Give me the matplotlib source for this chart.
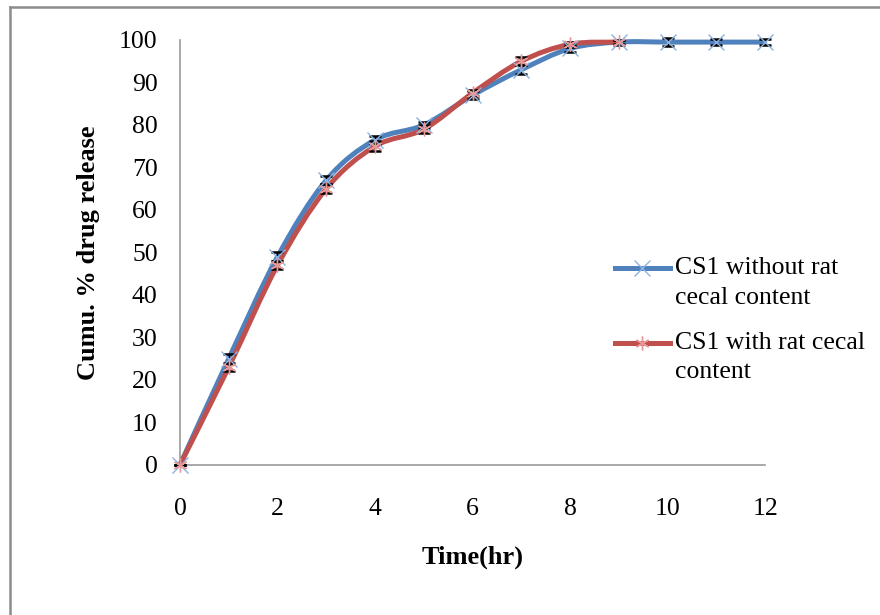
import matplotlib.pyplot as plt
import numpy as np
from matplotlib.path import Path
from matplotlib.patches import PathPatch
from matplotlib.lines import Line2D

plt.rcParams['font.family'] = ['Liberation Serif', 'DejaVu Serif']

# data
t_without = [0, 1, 2, 3, 4, 5, 6, 7, 8, 9, 10, 11, 12]
cs1_without = [0, 25, 49, 67, 76.5, 80, 87, 93, 98, 99.5, 99.5, 99.5, 99.5]
err_without = [0, 1.2, 1.0, 0.9, 1.0, 0.8, 0.9, 1.0, 0.8, 0.6, 0.9, 0.8, 0.8]
t_with = [0, 1, 2, 3, 4, 5, 6, 7, 8, 9]
cs1_with = [0, 23, 47, 65, 75, 79, 87.5, 95, 99, 99.5]
err_with = [0, 1.0, 1.0, 1.0, 1.2, 0.9, 0.8, 0.9, 0.6, 0.5]
legend_lines = [['CS1 without rat', 'cecal content'],
                ['CS1 with rat cecal', 'content']]

blue = '#4F81BD'
red = '#C0504D'
blue_mk = '#8db3e2'
red_mk = '#e69a9a'


def smooth_path(x, y):
    # excel style smoothed line: cubic bezier through the points
    x = np.asarray(x, float)
    y = np.asarray(y, float)
    verts = [(x[0], y[0])]
    codes = [Path.MOVETO]
    n = len(x)
    for i in range(n - 1):
        p0 = (x[max(i - 1, 0)], y[max(i - 1, 0)])
        p1 = (x[i], y[i])
        p2 = (x[i + 1], y[i + 1])
        p3 = (x[min(i + 2, n - 1)], y[min(i + 2, n - 1)])
        c1 = (p1[0] + (p2[0] - p0[0]) / 6, p1[1] + (p2[1] - p0[1]) / 6)
        c2 = (p2[0] - (p3[0] - p1[0]) / 6, p2[1] - (p3[1] - p1[1]) / 6)
        verts += [c1, c2, p2]
        codes += [Path.CURVE4] * 3
    return Path(verts, codes)


W, H = 880, 615
fig = plt.figure(figsize=(W / 100, H / 100), dpi=100)
# chart border (only top and left edges are visible)
fig.add_artist(Line2D([0.011, 1.0], [0.989, 0.989], transform=fig.transFigure,
                      color='#8c8c8c', lw=1.8))
fig.add_artist(Line2D([0.011, 0.011], [0.0, 0.989], transform=fig.transFigure,
                      color='#8c8c8c', lw=1.8))

ax = fig.add_axes([0.2045, 0.244, 0.665, 0.691])

ax.add_patch(PathPatch(smooth_path(t_without, cs1_without), fill=False,
                       edgecolor=blue, lw=3.6, zorder=3, clip_on=False))
ax.add_patch(PathPatch(smooth_path(t_with, cs1_with), fill=False,
                       edgecolor=red, lw=3.6, zorder=4, clip_on=False))

for x, y, e in [(t_without, cs1_without, err_without), (t_with, cs1_with, err_with)]:
    eb = ax.errorbar(x, y, yerr=e, fmt='none', ecolor='black',
                     elinewidth=1, capsize=4, capthick=1.8, zorder=5)
    for art in eb.lines[1] + eb.lines[2]:
        art.set_clip_on(False)

ax.plot(t_without, cs1_without, ls='none', marker='x', ms=12, mew=1.0,
        color=blue_mk, zorder=6, clip_on=False)
ax.plot(t_with, cs1_with, ls='none', marker=(6, 2, 0), ms=10, mew=1.0,
        color=red_mk, zorder=7, clip_on=False)

ax.set_xlim(0, 12)
ax.set_ylim(0, 100)
ax.set_xticks(range(0, 13, 2))
ax.set_yticks(range(0, 101, 10))
ax.tick_params(labelsize=18.5, length=0, pad=16)
ax.tick_params(axis='x', pad=24)
for s in ['top', 'right']:
    ax.spines[s].set_visible(False)
for s in ['left', 'bottom']:
    ax.spines[s].set_color('#9a9a9a')
    ax.spines[s].set_linewidth(1.2)

ax.set_xlabel('Time(hr)', fontsize=19, fontweight='bold', labelpad=18)
ax.set_ylabel('Cumu. % drug release', fontsize=19, fontweight='bold', labelpad=14)

# legend drawn by hand: excel puts the key level with the first text line
key_style = [dict(color=blue, mk='x', ms=12, mc=blue_mk),
             dict(color=red, mk=(6, 2, 0), ms=10, mc=red_mk)]
entry_top = [268, 343]
for st, top, lines in zip(key_style, entry_top, legend_lines):
    yk = 1 - top / H
    fig.add_artist(Line2D([615 / W, 670 / W], [yk, yk], transform=fig.transFigure,
                          color=st['color'], lw=3.6))
    fig.add_artist(Line2D([642 / W], [yk], transform=fig.transFigure, ls='none',
                          marker=st['mk'], ms=st['ms'], mew=1.0, color=st['mc']))
    for i, line in enumerate(lines):
        fig.text(675 / W, 1 - (top + 29.5 * i) / H, line, fontsize=18.5,
                 va='center', ha='left')

fig.savefig('out.png', dpi=100)
